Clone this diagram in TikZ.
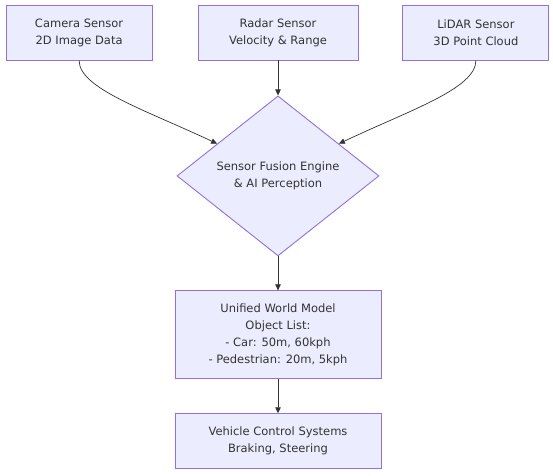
\documentclass[tikz,border=0pt]{standalone}
\usepackage{fontspec}
\setmainfont{DejaVu Sans}
\usepackage{tikz}
\usetikzlibrary{shapes.geometric, arrows.meta, positioning, calc}
\definecolor{nodefill}{HTML}{ECECFF}
\definecolor{nodeline}{HTML}{9370DB}
\definecolor{textgray}{HTML}{333333}
\definecolor{arrowgray}{HTML}{333333}
\tikzset{
  block/.style={rectangle, draw=nodeline, fill=nodefill, text=textgray,
    line width=0.9pt, align=center, inner sep=0pt,
    font=\fontsize{11.5}{17}\selectfont},
  sensorblock/.style={block, minimum width=146pt, minimum height=55pt},
  wideblock/.style={block, minimum width=206pt},
  fusionblock/.style={block, diamond, aspect=1.26, minimum width=202pt,
    minimum height=160pt},
  arrow/.style={-{Stealth[length=6pt, width=5.5pt, inset=0pt]},
    line width=0.7pt, color=arrowgray},
}
\begin{document}
\begin{tikzpicture}[x=1pt, y=1pt]
  \useasboundingbox (0,0) rectangle (553,-475);
  \node[sensorblock, minimum width=160pt] (radar) at (278,-32.5)
        {Radar Sensor\\Velocity \& Range};
  \node[sensorblock, left=45pt of radar] (camera) {Camera Sensor\\2D Image Data};
  \node[sensorblock, right=44pt of radar] (lidar) {LiDAR Sensor\\3D Point Cloud};
  \node[fusionblock, below=35pt of radar] (fusion)
        {Sensor Fusion Engine\\\& AI Perception};
  \node[wideblock, minimum height=88pt, below=34pt of fusion] (world)
        {Unified World Model\\Object List:\\- Car: 50m, 60kph\\- Pedestrian: 20m, 5kph};
  \node[wideblock, minimum height=55pt, below=34pt of world] (control)
        {Vehicle Control Systems\\Braking, Steering};
  % curved feeds into the diamond
  \coordinate (fusionin1) at ($(fusion.north)!0.6!(fusion.west)$);
  \coordinate (fusionin2) at ($(fusion.north)!0.6!(fusion.east)$);
  \draw[arrow] (camera.south) .. controls +(0,-28) and +(-72,34) .. (fusionin1);
  \draw[arrow] (lidar.south) .. controls +(0,-28) and +(72,34) .. (fusionin2);
  \draw[arrow] (radar.south) -- (fusion.north);
  \draw[arrow] (fusion.south) -- (world.north);
  \draw[arrow] (world.south) -- (control.north);
\end{tikzpicture}
\end{document}
